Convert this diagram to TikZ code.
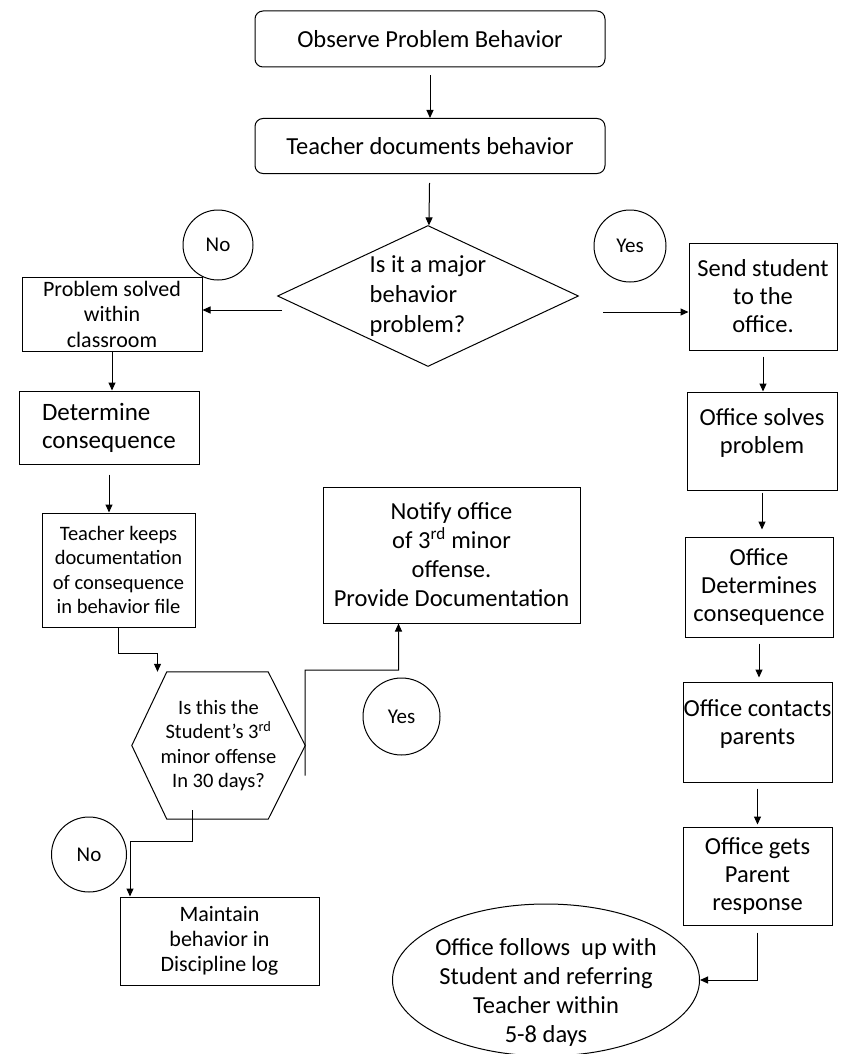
\documentclass[tikz,border=0pt]{standalone}
\usepackage{xcolor}
\usepackage{fontspec}
\setmainfont{Carlito}
\usepackage{tikz}
\usetikzlibrary{arrows.meta, shapes.geometric}

\tikzset{
  arr/.style={-{Triangle[length=8pt,width=7pt]}, line width=1pt},
  stepbox/.style={draw, rectangle, line width=1pt, inner sep=0pt, align=center,
    font=\fontsize{24.5}{28}\selectfont},
  roundbox/.style={stepbox, rounded corners=8pt},
  answer/.style={draw, circle, line width=1pt, minimum size=72pt, inner sep=0pt,
    font=\fontsize{21}{24}\selectfont},
}

\begin{document}
\begin{tikzpicture}[x=1pt,y=1pt,yscale=-1,xscale=1]
\useasboundingbox (0,0) rectangle (848,1054);

% top of the chart
\node[roundbox, minimum width=350pt, minimum height=56pt] (observe) at (430,39) {Observe Problem Behavior};
\node[roundbox, minimum width=350pt, minimum height=55pt] (tdocs) at (430,146) {Teacher documents behavior};
\node[diamond, draw, line width=1pt, inner sep=0pt, shape aspect=2.1, minimum width=301pt, minimum height=141pt,
  align=left, font=\fontsize{24.5}{30}\selectfont] (major) at (428,296) {Is it a major\\behavior\\problem?};
\node[answer, minimum size=70pt] (nomajor) at (218,245) {No};
\node[answer] (yesmajor) at (630,246) {Yes};

% left branch
\node[stepbox, minimum width=180pt, minimum height=74pt, font=\fontsize{22}{25.5}\selectfont] (solved) at (112,314) {Problem solved\\within\\classroom};
\node[stepbox, align=left, minimum width=180pt, minimum height=73pt, font=\fontsize{25}{28}\selectfont] (determine) at (109,427.5) {Determine\\consequence};
\node[stepbox, minimum width=153pt, minimum height=114pt, font=\fontsize{20.5}{24.5}\selectfont] (keeps) at (118.5,570) {Teacher keeps\\documentation\\of consequence\\in behavior file};

% hexagon
\node[minimum width=173pt, minimum height=147pt, inner sep=0pt, align=center,
  font=\fontsize{20.5}{24.5}\selectfont] (minor) at (218.5,745.5) {Is this the\\Student's 3\textsuperscript{rd}\\minor offense\\In 30 days?};
\draw[line width=1pt] (minor.west) -- ([xshift=35pt]minor.north west) -- ([xshift=-37pt]minor.north east)
  -- (minor.east) -- ([xshift=-37pt]minor.south east) -- ([xshift=35pt]minor.south west) -- cycle;

\node[stepbox, minimum width=257pt, minimum height=136pt, font=\fontsize{24.5}{29}\selectfont] (notify) at (451.5,555) {Notify office\\of 3\textsuperscript{rd} minor\\offense.\\Provide Documentation};
\node[answer, minimum size=77pt] (yesminor) at (401.5,716.5) {Yes};
\node[answer, minimum size=75pt] (nominor) at (89,854.5) {No};
\node[stepbox, minimum width=199pt, minimum height=88pt, font=\fontsize{22}{25}\selectfont] (maintain) at (219.5,941) {Maintain\\behavior in\\Discipline log};

% right branch
\node[stepbox, minimum width=148pt, minimum height=107pt] (send) at (763,296.5) {Send student\\to the\\office.};
\node[stepbox, minimum width=150pt, minimum height=98pt] (solves) at (762,441) {Office solves\\problem\\[-8pt]\mbox{}};
\node[stepbox, minimum width=148pt, minimum height=100pt] (odeterm) at (759,587) {Office\\Determines\\consequence};
\node[stepbox, minimum width=149pt, minimum height=100pt] (contacts) at (757.5,732) {Office contacts\\parents\\[-8pt]\mbox{}};
\node[stepbox, minimum width=149pt, minimum height=98pt] (response) at (757.5,876) {Office gets\\Parent\\response};
\node[ellipse, draw, line width=1pt, inner sep=-16pt, minimum width=307pt, minimum height=152pt,
  align=center, font=\fontsize{24.5}{29}\selectfont] (followup) at (546,980) {\strut\\[-7pt]Office follows~ up with\\Student and referring\\Teacher within\\5-8 days};

% loose ends of the arrows
\coordinate (majorleft) at (282,310);
\coordinate (majorright) at (603,312);
\coordinate (yesbend) at (305,670);

% connectors
\draw[arr, shorten <=8pt] (observe) -- (tdocs);
\draw[arr, shorten <=9pt] (tdocs) -- (major);
\draw[arr] (majorleft) -- (majorleft -| solved.east);
\draw[arr] (majorright) -- (majorright -| send.west);
\draw[arr] (solved.south) -- (solved.south |- determine.north);
\draw[arr, shorten <=10pt] (determine.south) -- (determine.south |- keeps.north);
\draw[arr] (keeps.south) -- ++(0,26) -| ([xshift=-61pt]minor.north);
\draw[arr] ([yshift=30pt]minor.east) -- (yesbend) -| ([xshift=-53pt]notify.south);
\draw[arr] ([xshift=-26.5pt,yshift=-9pt]minor.south) -- ++(0,31) -| ([xshift=-89.5pt]maintain.north);
\draw[arr, shorten <=6pt] (send.south) -- (send.south |- solves.north);
\draw[arr, shorten <=2pt, shorten >=7pt] (solves.south) -- (solves.south |- odeterm.north);
\draw[arr, shorten <=6pt, shorten >=4pt] (odeterm.south) -- (odeterm.south |- contacts.north);
\draw[arr, shorten <=6pt, shorten >=2pt] (contacts.south) -- (contacts.south |- response.north);
\draw[arr, shorten <=7pt] (response.south) |- (followup.east);

\end{tikzpicture}
\end{document}
